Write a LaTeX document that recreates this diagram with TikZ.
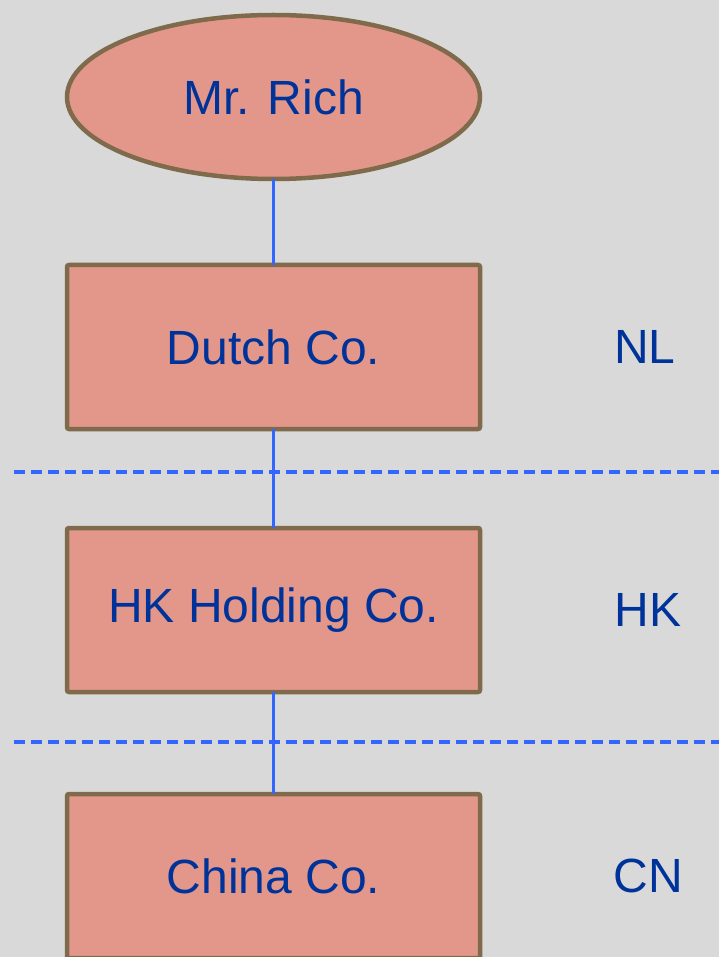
\documentclass[tikz,border=0pt]{standalone}
\usepackage{fontspec}
\setmainfont{Liberation Sans}
\usetikzlibrary{shapes.geometric}
\definecolor{bg}{HTML}{D9D9D9}
\definecolor{boxfill}{HTML}{E3978A}
\definecolor{boxdraw}{HTML}{7F6A4C}
\definecolor{linkblue}{HTML}{3366FF}
\definecolor{txtblue}{HTML}{003399}
\tikzset{
  entity/.style={draw=boxdraw, fill=boxfill, line width=4.5pt, text=txtblue,
    font=\fontsize{48}{54}\selectfont, minimum width=413pt, minimum height=164pt,
    inner sep=0pt, outer sep=0pt},
  corp/.style={entity, rectangle, rounded corners=2pt},
  person/.style={entity, ellipse},
  region/.style={text=txtblue, font=\fontsize{48}{54}\selectfont, inner sep=0pt},
  link/.style={draw=linkblue, line width=3.2pt},
  border/.style={draw=linkblue, line width=3.2pt, dash pattern=on 11pt off 6pt}
}
\begin{document}
\begin{tikzpicture}[x=1pt, y=-1pt]
\fill[bg] (0,0) rectangle (719,957);
\useasboundingbox (0,0) rectangle (719,957);
\coordinate (b1l) at (14,472);
\coordinate (b1r) at (719,472);
\coordinate (b2l) at (14,742);
\coordinate (b2r) at (719,742);
\draw[border] (b1l) -- (b1r);
\draw[border] (b2l) -- (b2r);
\node[person] (rich) at (273.5,97) {Mr. Rich};
\node[corp] (dutch) at (273.5,347) {Dutch Co.};
\node[corp] (hk) at (273.5,610) {HK Holding Co.};
\node[corp] (cn) at (273.5,876) {China Co.};
\draw[link] (rich.south) -- (dutch.north);
\draw[link] (dutch.south) -- (hk.north);
\draw[link] (hk.south) -- (cn.north);
\node[region] (nl) at (645,347) {NL};
\node[region] (hkl) at (648,610) {HK};
\node[region] (cnl) at (648,876) {CN};
\end{tikzpicture}
\end{document}
